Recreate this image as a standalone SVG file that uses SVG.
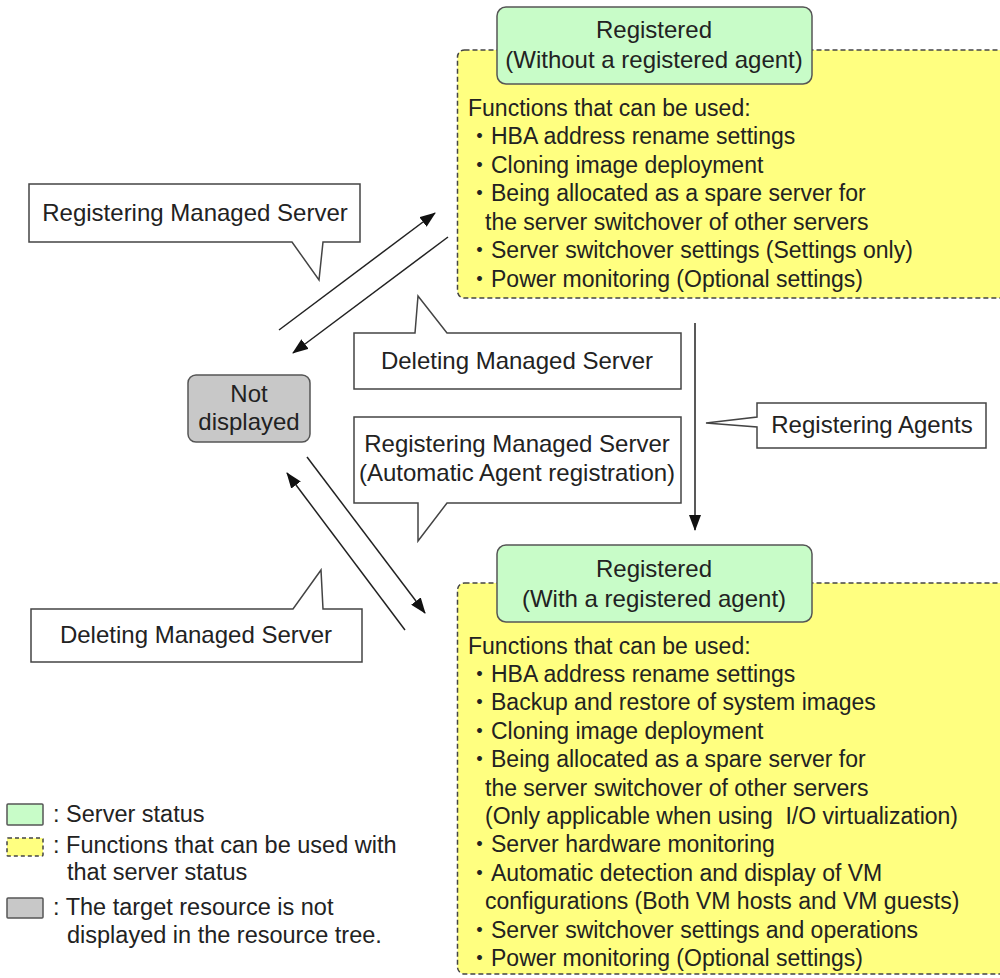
<svg xmlns="http://www.w3.org/2000/svg" width="1000" height="978" viewBox="0 0 1000 978">
<style>
text{font-family:"Liberation Sans","Noto Sans CJK JP",Arial,sans-serif;fill:#222;white-space:pre}
.l{font-size:23px}
.c{font-size:24px;text-anchor:middle}
.lg{font-size:23.5px}
.status{fill:#c8fcc8;stroke:#555;stroke-width:1.5}
.func{fill:#ffff80;stroke:#444;stroke-width:1.5;stroke-dasharray:5 3}
.hidden{fill:#c8c8c8;stroke:#555;stroke-width:1.5}
.call{fill:#fff;stroke:#444;stroke-width:1.5}
.conn line{stroke:#222;stroke-width:1.5;marker-end:url(#ah)}
</style>
<defs>
<marker id="ah" viewBox="0 0 16 12" refX="15" refY="6" markerWidth="16" markerHeight="12" markerUnits="userSpaceOnUse" orient="auto"><path d="M0,0 L16,6 L0,12 z" fill="#111"/></marker>
</defs>
<rect width="1000" height="978" fill="#fff"/>

<g id="func-top">
<rect class="func" x="457.5" y="50" width="560" height="248" rx="7"/>
<text class="l" x="468" y="115.5">Functions that can be used:</text>
<text class="l" x="468" y="144">・HBA address rename settings</text>
<text class="l" x="468" y="172.5">・Cloning image deployment</text>
<text class="l" x="468" y="201">・Being allocated as a spare server for</text>
<text class="l" x="485" y="229.5">the server switchover of other servers</text>
<text class="l" x="468" y="258">・Server switchover settings (Settings only)</text>
<text class="l" x="468" y="286.5">・Power monitoring (Optional settings)</text>
</g>
<g id="status-top">
<rect class="status" x="497" y="7" width="315" height="77" rx="9"/>
<text class="c" x="654" y="38">Registered</text>
<text class="c" x="654" y="68">(Without a registered agent)</text>
</g>

<g id="func-bottom">
<rect class="func" x="457.5" y="583" width="560" height="391" rx="7"/>
<text class="l" x="468" y="653.5">Functions that can be used:</text>
<text class="l" x="468" y="682">・HBA address rename settings</text>
<text class="l" x="468" y="710.4">・Backup and restore of system images</text>
<text class="l" x="468" y="738.8">・Cloning image deployment</text>
<text class="l" x="468" y="767.2">・Being allocated as a spare server for</text>
<text class="l" x="485" y="795.6">the server switchover of other servers</text>
<text class="l" x="485" y="824">(Only applicable when using  I/O virtualization)</text>
<text class="l" x="468" y="852.4">・Server hardware monitoring</text>
<text class="l" x="468" y="880.8">・Automatic detection and display of VM</text>
<text class="l" x="485" y="909.2">configurations (Both VM hosts and VM guests)</text>
<text class="l" x="468" y="937.6">・Server switchover settings and operations</text>
<text class="l" x="468" y="966">・Power monitoring (Optional settings)</text>
</g>
<g id="status-bottom">
<rect class="status" x="497" y="545" width="315" height="77" rx="9"/>
<text class="c" x="654" y="577">Registered</text>
<text class="c" x="654" y="607">(With a registered agent)</text>
</g>

<g id="not-displayed">
<rect class="hidden" x="188" y="375" width="122" height="67" rx="8"/>
<text class="c" x="249" y="402">Not</text>
<text class="c" x="249" y="430">displayed</text>
</g>

<g class="conn" id="connectors">
<line x1="279" y1="330" x2="435" y2="213"/>
<line x1="448" y1="237" x2="293" y2="353"/>
<line x1="307" y1="457" x2="425" y2="613"/>
<line x1="405" y1="630" x2="287" y2="473"/>
<line x1="695" y1="323" x2="695" y2="530"/>
</g>

<g id="callout-register">
<path class="call" d="M29,184 H360 V242 H323 L319,280 L292,242 H29 Z"/>
<text class="c" x="195" y="221">Registering Managed Server</text>
</g>
<g id="callout-delete-top">
<path class="call" d="M354,333 H415 L418,296 L447,333 H681 V389 H354 Z"/>
<text class="c" x="517" y="369">Deleting Managed Server</text>
</g>
<g id="callout-register-auto">
<path class="call" d="M354,417 H681 V503 H447 L418,541 L418,503 H354 Z"/>
<text class="c" x="517" y="452">Registering Managed Server</text>
<text class="c" x="517" y="481">(Automatic Agent registration)</text>
</g>
<g id="callout-agents">
<path class="call" d="M757,403 H986 V448 H757 V427 L706,423 L757,417 Z"/>
<text class="c" x="872" y="433">Registering Agents</text>
</g>
<g id="callout-delete-bottom">
<path class="call" d="M31,609 H293 L321,570 L323,609 H362 V662 H31 Z"/>
<text class="c" x="196" y="643">Deleting Managed Server</text>
</g>

<g id="legend">
<rect class="status" x="7" y="804" width="36" height="21" rx="1"/>
<text class="lg" x="53" y="822">: Server status</text>
<rect class="func" x="7" y="838" width="36" height="18" rx="1" style="stroke-dasharray:4 3"/>
<text class="lg" x="53" y="853">: Functions that can be used with</text>
<text class="lg" x="67" y="880">that server status</text>
<rect class="hidden" x="7" y="898" width="36" height="20" rx="1"/>
<text class="lg" x="53" y="915">: The target resource is not</text>
<text class="lg" x="67" y="943">displayed in the resource tree.</text>
</g>
</svg>
